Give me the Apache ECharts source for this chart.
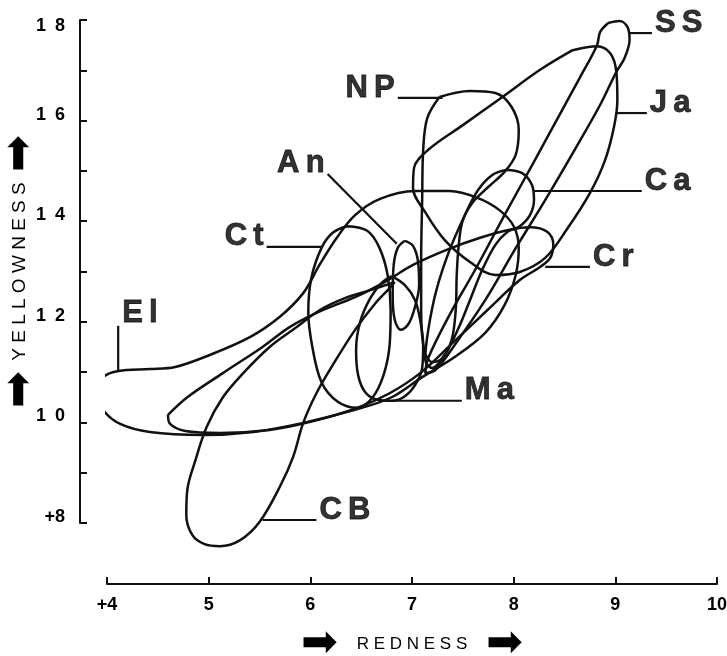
<!DOCTYPE html>
<html>
<head>
<meta charset="utf-8">
<script src="https://cdn.jsdelivr.net/npm/echarts/dist/echarts.min.js"></script>
<style>
html, body { margin: 0; padding: 0; background: #fff; }
#chart { width: 727px; height: 656px; }
</style>
</head>
<body>
<div id="chart"></div>
<script>
// outline of each group, points are [redness, yellowness]
const ss = [[8.93,17.94],[9.04,17.98],[9.12,17.86],[9.14,17.60],[9.09,17.24],[9.01,16.97],[8.85,16.31],[8.60,15.42],[8.31,14.42],[8.01,13.43],[7.72,12.43],[7.42,11.54],[7.23,11.04],[7.13,10.98],[7.16,11.28],[7.37,12.14],[7.62,13.03],[7.91,14.12],[8.21,15.22],[8.45,16.11],[8.65,16.85],[8.82,17.50],[8.85,17.76],[8.93,17.94]];
const ja = [[8.58,17.40],[8.82,17.48],[8.95,17.34],[9.01,16.97],[9.02,16.41],[8.99,15.91],[8.90,15.22],[8.75,14.56],[8.52,13.83],[8.31,13.27],[8.06,12.99],[7.82,12.93],[7.57,13.19],[7.32,13.63],[7.13,14.18],[7.01,14.66],[7.02,15.06],[7.16,15.42],[7.50,15.91],[7.89,16.47],[8.26,17.01],[8.58,17.40]];
const np = [[7.27,16.47],[7.57,16.59],[7.82,16.55],[7.98,16.27],[8.05,15.81],[8.02,15.32],[7.91,14.98],[7.75,14.68],[7.60,14.38],[7.50,14.02],[7.46,13.53],[7.44,12.93],[7.43,12.23],[7.39,11.64],[7.30,11.28],[7.20,11.20],[7.12,11.44],[7.09,12.23],[7.09,13.23],[7.10,14.42],[7.11,15.42],[7.15,16.05],[7.27,16.47]];
const ca = [[7.93,15.02],[8.08,14.96],[8.18,14.72],[8.20,14.42],[8.16,14.12],[8.06,13.90],[7.94,13.79],[7.82,13.53],[7.69,13.03],[7.57,12.43],[7.45,11.84],[7.32,11.34],[7.20,11.08],[7.13,11.24],[7.16,11.84],[7.24,12.63],[7.37,13.43],[7.52,14.12],[7.65,14.62],[7.79,14.92],[7.93,15.02]];
const an = [[6.93,13.61],[7.01,13.51],[7.06,13.19],[7.07,12.73],[7.02,12.23],[6.96,11.94],[6.89,11.84],[6.83,12.04],[6.81,12.53],[6.82,13.13],[6.86,13.47],[6.93,13.61]];
const ct = [[6.36,13.90],[6.56,13.81],[6.68,13.47],[6.76,12.93],[6.79,12.23],[6.78,11.54],[6.72,10.94],[6.61,10.49],[6.46,10.29],[6.27,10.41],[6.11,10.80],[6.02,11.50],[5.98,12.19],[6.01,12.87],[6.11,13.47],[6.22,13.77],[6.36,13.90]];
const cr = [[4.60,10.15],[4.79,10.50],[5.14,10.98],[5.53,11.50],[5.80,11.90],[6.12,12.23],[6.44,12.49],[6.73,12.79],[7.01,13.13],[7.34,13.43],[7.67,13.67],[7.96,13.83],[8.16,13.88],[8.33,13.79],[8.39,13.53],[8.36,13.27],[8.26,13.09],[8.06,12.83],[7.74,12.23],[7.40,11.58],[7.08,10.98],[6.78,10.58],[6.46,10.29],[6.00,10.01],[5.60,9.85],[5.11,9.79],[4.77,9.83],[4.62,9.97],[4.60,10.15]];
const el = [[3.91,10.54],[3.94,10.84],[4.03,10.98],[4.18,11.04],[4.42,11.06],[4.67,11.10],[5.01,11.34],[5.41,11.70],[5.70,12.10],[5.93,12.57],[6.09,13.13],[6.26,13.67],[6.44,14.12],[6.68,14.44],[7.03,14.60],[7.37,14.60],[7.65,14.46],[7.86,14.22],[8.00,13.90],[8.05,13.47],[8.02,12.93],[7.91,12.33],[7.72,11.78],[7.42,11.30],[7.10,10.90],[6.80,10.50],[6.44,10.25],[5.93,9.99],[5.44,9.81],[4.94,9.75],[4.42,9.81],[4.13,9.97],[3.96,10.25],[3.91,10.54]];
const ma = [[6.80,12.91],[6.93,12.73],[7.03,12.43],[7.08,12.04],[7.11,11.54],[7.10,11.08],[7.03,10.74],[6.93,10.52],[6.81,10.43],[6.66,10.45],[6.54,10.60],[6.47,10.94],[6.45,11.44],[6.49,12.00],[6.59,12.47],[6.70,12.77],[6.80,12.91]];
const cb = [[6.83,12.79],[6.59,12.63],[6.34,12.47],[6.09,12.23],[5.87,11.90],[5.60,11.50],[5.34,10.98],[5.14,10.50],[4.98,9.91],[4.87,9.25],[4.79,8.66],[4.78,8.16],[4.84,7.76],[4.96,7.58],[5.11,7.54],[5.31,7.66],[5.50,8.02],[5.70,8.72],[5.83,9.31],[5.93,9.99],[6.06,10.58],[6.22,11.14],[6.44,11.84],[6.64,12.37],[6.78,12.67],[6.83,12.79]];

const groupNames = ["SS", "Ja", "NP", "Ca", "An", "Ct", "Cr", "El", "Ma", "CB"];
const outlines = [ss, ja, np, ca, an, ct, cr, el, ma, cb];
// leader line: from the outline to where the name sits
const leaders = [
  [[9.14,17.74],[9.36,17.74]],
  [[9.01,16.15],[9.31,16.15]],
  [[7.30,16.45],[6.86,16.45]],
  [[8.19,14.60],[9.26,14.60]],
  [[6.85,13.55],[6.17,14.94]],
  [[6.11,13.49],[5.57,13.49]],
  [[8.31,13.09],[8.75,13.09]],
  [[4.11,11.02],[4.11,11.92]],
  [[6.81,10.43],[7.49,10.43]],
  [[5.53,8.06],[6.06,8.06]]
];
const labelSide = ["right", "right", "left", "right", "left", "left", "right", "right", "right", "right"];

const ink = "#111";
const font = "Liberation Sans, Arial, sans-serif";
const chart = echarts.init(document.getElementById("chart"));

let series = [];
outlines.forEach(function (pts, i) {
  series.push({
    name: groupNames[i],
    type: "line",
    data: pts,
    smooth: 0.35,
    symbol: "none",
    clip: false,
    silent: true,
    lineStyle: { color: ink, width: 2.5 },
  });
});
leaders.forEach(function (pts) {
  series.push({
    type: "line",
    data: pts,
    symbol: "none",
    clip: false,
    silent: true,
    lineStyle: { color: ink, width: 2.2 },
  });
});
series.push({
  type: "scatter",
  symbolSize: 0,
  silent: true,
  clip: false,
  data: leaders.map(function (l, i) {
    return {
      value: l[1],
      name: groupNames[i],
      label: {
        position: labelSide[i],
        distance: i == 7 ? 4 : 3,
        offset: [0, i == 7 ? -12 : -10],
      },
    };
  }),
  label: {
    show: true,
    color: "#000",
    textBorderColor: "#000",
    textBorderWidth: 0.8,
    fontFamily: font,
    fontWeight: "bold",
    fontSize: 31,
    formatter: function (p) {
      return p.name.split("").join("\u2009");
    },
  },
});

const tickFont = { fontFamily: font, fontWeight: "bold", fontSize: 18, color: "#000" };

let option = {
  animation: false,
  backgroundColor: "#fff",
  grid: { left: 107, right: 10, top: 20, bottom: 133, containLabel: false, outerBoundsMode: "none" },
  xAxis: {
    type: "value",
    min: 4,
    max: 10,
    interval: 1,
    offset: 61,
    splitLine: { show: false },
    axisLine: { lineStyle: { color: ink, width: 2 } },
    axisTick: { inside: true, length: 7, lineStyle: { color: ink, width: 2 } },
    axisLabel: Object.assign({
      margin: 12,
      formatter: function (v) {
        return v == 4 ? "+4" : String(v);
      },
    }, tickFont),
    name: "{a|\u27A1}    R E D N E S S    {a|\u27A1}",
    nameLocation: "middle",
    nameGap: 38,
    nameMoveOverlap: false,
    nameTextStyle: {
      color: "#000",
      fontFamily: font,
      fontSize: 17,
      rich: { a: { fontSize: 44, color: "#000" } },
    },
  },
  yAxis: {
    type: "value",
    min: 8,
    max: 18,
    interval: 1,
    offset: 27,
    splitLine: { show: false },
    axisLine: { show: true, lineStyle: { color: ink, width: 2 } },
    axisTick: { show: true, inside: true, length: 7, lineStyle: { color: ink, width: 2 } },
    axisLabel: Object.assign({
      margin: 15,
      formatter: function (v) {
        if (v % 2 != 0) return "";
        let s = v == 8 ? "+8" : String(v).split("").join("\u2002");
        return v == 18 ? "{d|" + s + "}" : "{u|" + s + "}";
      },
      rich: {
        u: Object.assign({ padding: [0, 0, 12, 0] }, tickFont),
        d: Object.assign({ padding: [12, 0, 0, 0] }, tickFont),
      },
    }, tickFont),
    name: "{a|\u27A1}  Y E L L O W N E S S  {a|\u27A1}",
    nameLocation: "middle",
    nameRotate: 90,
    nameGap: 38,
    nameMoveOverlap: false,
    nameTextStyle: {
      color: "#000",
      fontFamily: font,
      fontSize: 19,
      rich: { a: { fontSize: 44, color: "#000" } },
    },
  },
  series: series,
};
chart.setOption(option);
</script>
</body>
</html>
